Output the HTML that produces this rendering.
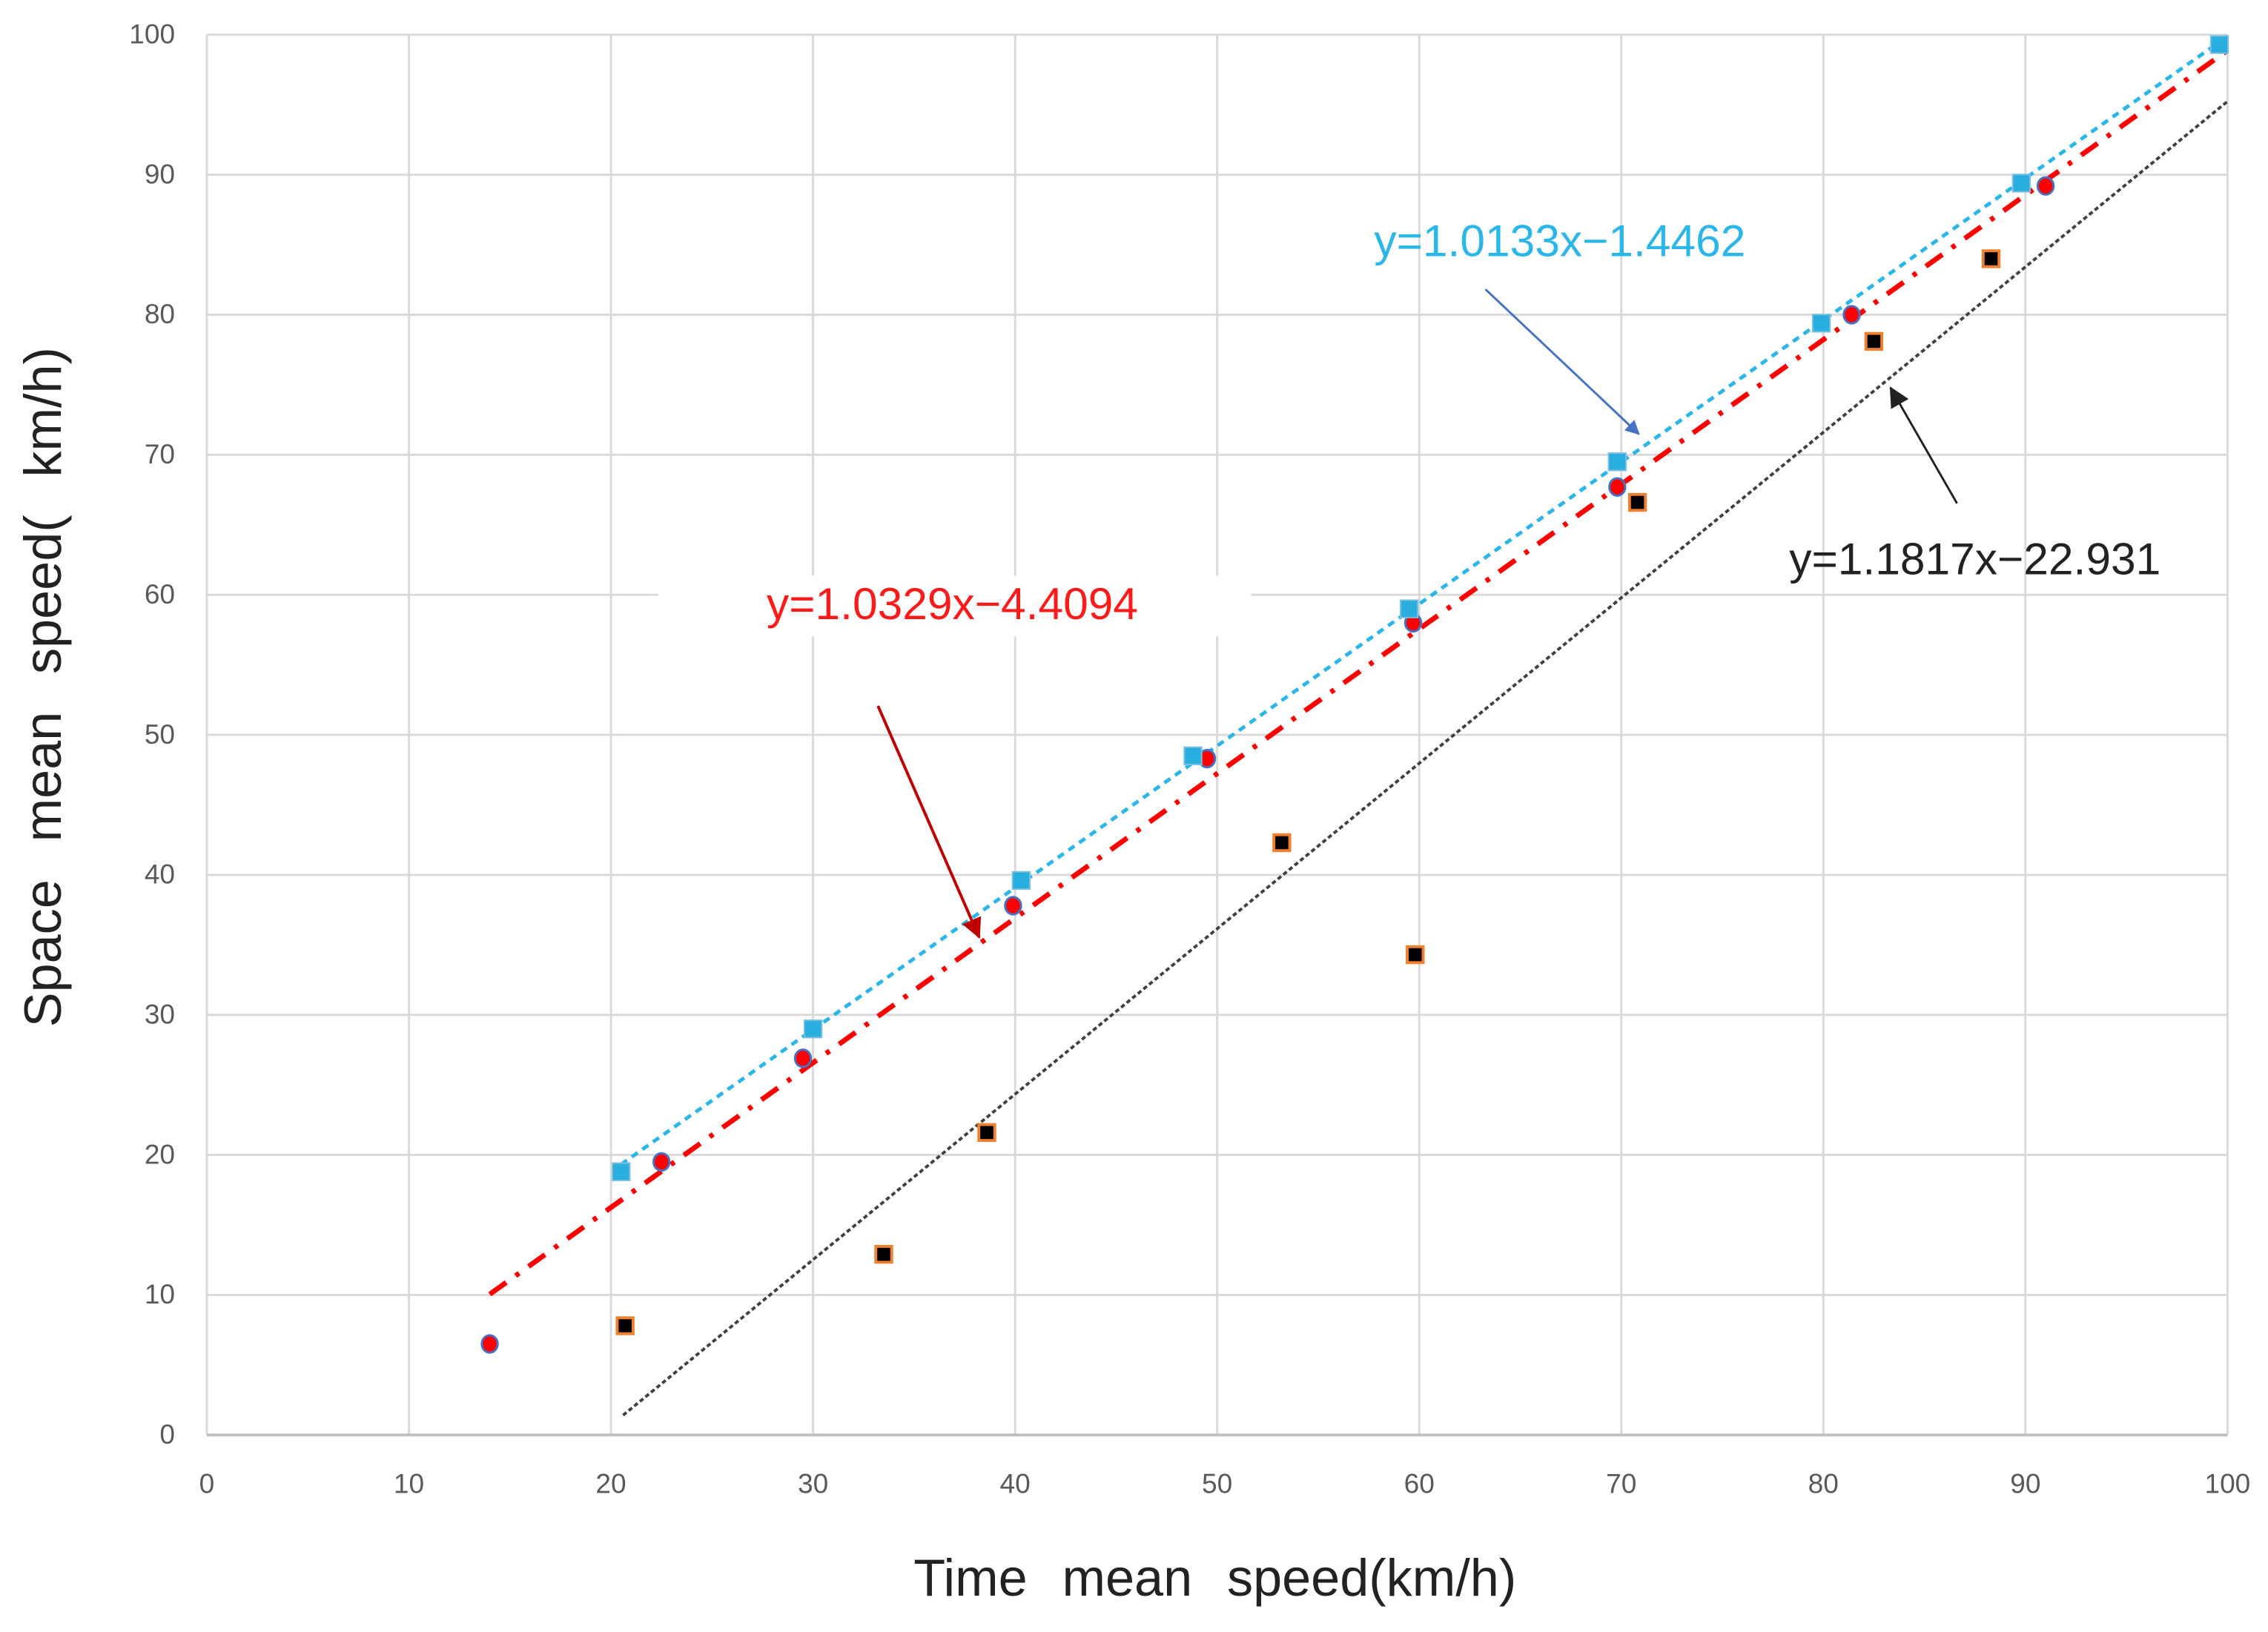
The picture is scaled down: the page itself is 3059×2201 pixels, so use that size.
<!DOCTYPE html>
<html><head><meta charset="utf-8">
<style>
html,body{margin:0;padding:0;background:#fff;}
svg{display:block;}
text{font-family:"Liberation Sans",sans-serif;}
</style></head>
<body>
<svg id="chart" width="3059" height="2201" viewBox="0 0 1568 1128.2" preserveAspectRatio="none" xmlns="http://www.w3.org/2000/svg">
<defs>
<marker id="ahBlue" markerWidth="10" markerHeight="10" refX="9" refY="5" orient="auto" markerUnits="userSpaceOnUse"><path d="M0,0 L10,5 L0,10 Z" fill="#4472c4"/></marker>
<marker id="ahRed" markerWidth="14" markerHeight="14" refX="13" refY="7" orient="auto" markerUnits="userSpaceOnUse"><path d="M0,0 L14,7 L0,14 Z" fill="#c00000"/></marker>
<marker id="ahBlack" markerWidth="14" markerHeight="14" refX="13" refY="7" orient="auto" markerUnits="userSpaceOnUse"><path d="M0,0 L14,7 L0,14 Z" fill="#222"/></marker>
</defs>
<g id="grid"></g>
<g id="ticks"></g>
<g id="lines"></g>
<g id="marks"></g>
<text x="840" y="1103" text-anchor="middle" font-size="36" word-spacing="14" fill="#222">Time mean speed(km/h)</text>
<text transform="translate(42,475) rotate(-90)" text-anchor="middle" font-size="36" word-spacing="16" fill="#222">Space mean speed( km/h)</text>
<rect x="455" y="398" width="410" height="42" fill="#fff"/>
<text x="950" y="177" font-size="31" fill="#29b6e8">y=1.0133x−1.4462</text>
<text x="530" y="428" font-size="31" fill="#ff1a1a">y=1.0329x−4.4094</text>
<text x="1237" y="397" font-size="31" fill="#222">y=1.1817x−22.931</text>
<line x1="1027" y1="200" x2="1133" y2="300" stroke="#4472c4" stroke-width="1.5" marker-end="url(#ahBlue)"/>
<line x1="607" y1="488" x2="677" y2="648" stroke="#c00000" stroke-width="2" marker-end="url(#ahRed)"/>
<line x1="1353" y1="348" x2="1307" y2="268" stroke="#222" stroke-width="1.5" marker-end="url(#ahBlack)"/>
</svg>
<script>
const xTicks=[0,10,20,30,40,50,60,70,80,90,100];
const yTicks=[0,10,20,30,40,50,60,70,80,90,100];
const blueX=[20.5,30,40.3,48.8,59.5,69.8,79.9,89.8,99.6];
const blueY=[18.8,29,39.6,48.5,59,69.5,79.4,89.4,99.3];
const redX=[14,22.5,29.5,39.9,49.5,59.7,69.8,81.4,91];
const redY=[6.5,19.5,26.9,37.8,48.3,58,67.7,80,89.2];
const blackX=[20.7,33.5,38.6,53.2,59.8,70.8,82.5,88.3];
const blackY=[7.8,12.9,21.6,42.3,34.3,66.6,78.1,84];
const blueFit=[1.0133,-1.4462,20.5,100];
const redFit=[1.0329,-4.4094,14,100];
const blackFit=[1.1817,-22.931,20.6,100];

const NS="http://www.w3.org/2000/svg";
const X0=143,X1=1540,Y0=992,Y1=24;
function sx(v){return X0+(v-0)/(100-0)*(X1-X0);}
function sy(v){return Y0-(v-0)/(100-0)*(Y0-Y1);}
function mk(t,a,p){const e=document.createElementNS(NS,t);for(const k in a)e.setAttribute(k,a[k]);p.appendChild(e);return e;}
const grid=document.getElementById('grid'),ticks=document.getElementById('ticks'),lines=document.getElementById('lines'),marks=document.getElementById('marks');
xTicks.forEach(v=>{
  const l=mk('line',{x1:sx(v),x2:sx(v),y1:Y1,y2:Y0,stroke:'#d9d9d9','stroke-width':1.5},grid);
  
  
  const t=mk('text',{x:sx(v),y:Y0+40,'text-anchor':'middle','font-size':19,fill:'#595959'},ticks);
  t.textContent=v;
  
  
});
yTicks.forEach(v=>{
  const l=mk('line',{x1:X0,x2:X1,y1:sy(v),y2:sy(v),stroke:v===0?'#bfbfbf':'#d9d9d9','stroke-width':v===0?2:1.5},grid);
  
  
  const t=mk('text',{x:X0-22,y:sy(v)+6,'text-anchor':'end','font-size':19,fill:'#595959'},ticks);
  t.textContent=v;
  
  
});
function fit(f,style,name){
  const l=mk('line',Object.assign({x1:sx(f[2]),y1:sy(f[0]*f[2]+f[1]),x2:sx(f[3]),y2:sy(f[0]*f[3]+f[1])},style),lines);
  
  
}
fit(blackFit,{stroke:'#404040','stroke-width':2,'stroke-dasharray':'3 2'},'black-trendline');
fit(redFit,{stroke:'#ff0000','stroke-width':3.5,'stroke-dasharray':'14 8 3 8'},'red-trendline');
fit(blueFit,{stroke:'#29b6e8','stroke-width':2.5,'stroke-dasharray':'5 4'},'blue-trendline');
blackX.forEach((x,i)=>{
  const r=mk('rect',{x:sx(x)-5.5,y:sy(blackY[i])-5.5,width:11,height:11,fill:'#000',stroke:'#f08030','stroke-width':2},marks);
  
  
});
redX.forEach((x,i)=>{
  const c=mk('ellipse',{cx:sx(x),cy:sy(redY[i]),rx:5.5,ry:6,fill:'#ff0000',stroke:'#4472c4','stroke-width':1.5},marks);
  
  
});
blueX.forEach((x,i)=>{
  const r=mk('rect',{x:sx(x)-6,y:sy(blueY[i])-6,width:12,height:12,fill:'#29aee0',stroke:'#7fbfdf','stroke-width':1},marks);
  
  
});
</script>
</body></html>
